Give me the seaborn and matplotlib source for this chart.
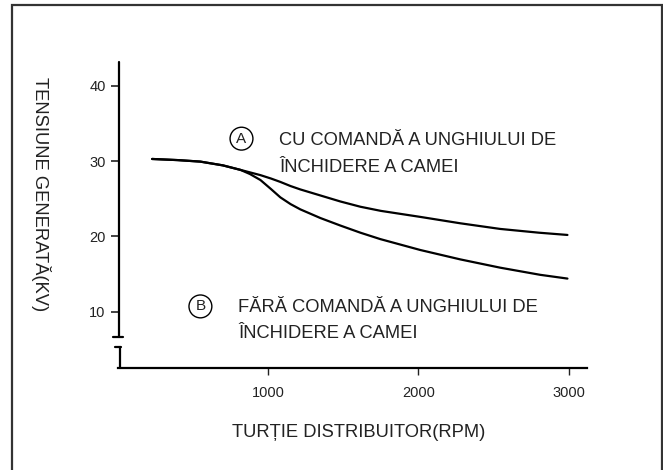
import numpy as np
import pandas as pd
import matplotlib
matplotlib.use('Agg')
import matplotlib.pyplot as plt
from matplotlib.lines import Line2D
from matplotlib.patches import Rectangle
import seaborn as sns

# curve A: with dwell angle control, curve B: without
rpm_a = [230, 400, 550, 700, 817, 950, 1020, 1082, 1150, 1215, 1348, 1481, 1614, 1750, 2012, 2278, 2543, 2800, 2990]
kv_a = [30.3, 30.15, 29.95, 29.45, 28.85, 28.15, 27.7, 27.25, 26.7, 26.25, 25.45, 24.65, 23.95, 23.4, 22.6, 21.75, 21.0, 20.5, 20.2]
rpm_b = [230, 400, 550, 700, 817, 880, 950, 1020, 1082, 1150, 1215, 1348, 1481, 1614, 1746, 2012, 2278, 2543, 2809, 2990]
kv_b = [30.3, 30.15, 29.95, 29.45, 28.85, 28.3, 27.5, 26.3, 25.2, 24.3, 23.6, 22.45, 21.45, 20.5, 19.65, 18.2, 16.95, 15.85, 14.9, 14.4]

y_ticks = [10, 20, 30, 40]
x_ticks = [1000, 2000, 3000]

df = pd.concat([
    pd.DataFrame({'rpm': rpm_a, 'kv': kv_a, 'curba': 'A'}),
    pd.DataFrame({'rpm': rpm_b, 'kv': kv_b, 'curba': 'B'}),
])

sns.set_style('white')
plt.rcParams['font.family'] = ['Liberation Sans', 'DejaVu Sans']
txt_color = '#222222'
fs = 13.25

fig = plt.figure(figsize=(6.63, 4.70), dpi=100)
ax = fig.add_axes([117.5 / 663, 1 - 367.5 / 470, 469.5 / 663, 305.5 / 470])

sns.lineplot(data=df, x='rpm', y='kv', hue='curba', palette=['black', 'black'],
             estimator=None, sort=False, linewidth=1.6, legend=False, ax=ax)

ax.set_xlim(0, 3120)
ax.set_ylim(2.58, 43.19)
ax.set_xticks(x_ticks)
ax.set_yticks(y_ticks)
ax.tick_params(axis='x', direction='out', length=5, width=1, pad=8, labelsize=10.5,
               colors=txt_color, bottom=True)
ax.tick_params(axis='y', direction='out', length=5, width=1.2, pad=3.5, labelsize=10.5,
               colors=txt_color, left=True)

for s in ['top', 'right', 'left']:
    ax.spines[s].set_visible(False)
ax.spines['bottom'].set_linewidth(1.6)
ax.spines['bottom'].set_color('black')

# broken y axis
brk_hi = (367.5 - 337) / 305.5
brk_lo = (367.5 - 346.7) / 305.5
for xs, ys in [([0.004, 0.004], [brk_hi, 1.0]),
               ([-0.009, 0.011], [brk_hi, brk_hi]),
               ([-0.005, 0.008], [brk_lo, brk_lo]),
               ([0.006, 0.006], [brk_lo, 0.0])]:
    ax.add_line(Line2D(xs, ys, transform=ax.transAxes, color='black', lw=1.6, clip_on=False))

ax.set_xlabel('TURȚIE DISTRIBUITOR(RPM)', fontsize=fs, color=txt_color)
ax.xaxis.set_label_coords(0.514, -0.214)
ax.xaxis.label.set_va('center')
ax.set_ylabel('TENSIUNE GENERATĂ(KV)', fontsize=fs, color=txt_color, rotation=270)
ax.yaxis.set_label_coords(-0.163, 0.568)
ax.yaxis.label.set_va('center')
ax.yaxis.label.set_ha('center')

# curve annotations
circ = dict(boxstyle='circle,pad=0.29', fc='white', ec='black', lw=1)
ax.text(824, 33.0, 'A', fontsize=11, ha='center', va='center', color=txt_color, bbox=circ)
ax.text(1076, 32.1, 'CU COMANDĂ A UNGHIULUI DE', fontsize=fs, ha='left', va='baseline', color=txt_color)
ax.text(1076, 28.6, 'ÎNCHIDERE A CAMEI', fontsize=fs, ha='left', va='baseline', color=txt_color)
ax.text(551, 10.7, 'B', fontsize=11, ha='center', va='center', color=txt_color, bbox=circ)
ax.text(800, 10.0, 'FĂRĂ COMANDĂ A UNGHIULUI DE', fontsize=fs, ha='left', va='baseline', color=txt_color)
ax.text(800, 6.55, 'ÎNCHIDERE A CAMEI', fontsize=fs, ha='left', va='baseline', color=txt_color)

# outer frame
fig.patches.append(Rectangle((12 / 663, -0.02), 650 / 663, 1.02 - 4.5 / 470,
                             transform=fig.transFigure, fill=False, ec='#333333', lw=1.6))

fig.savefig('out.png', dpi=100, facecolor='white')
